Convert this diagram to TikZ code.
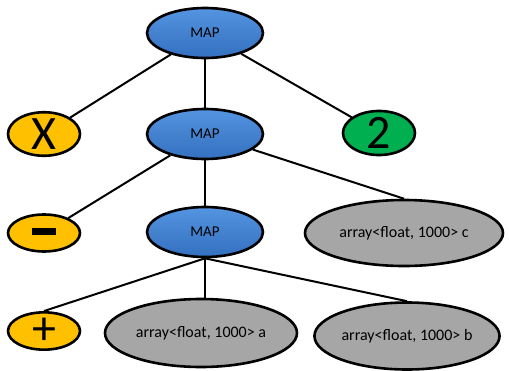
\documentclass[tikz,border=0pt]{standalone}
\usepackage{fontspec}
\setmainfont{Carlito}
\usetikzlibrary{shapes.geometric}
\definecolor{maptop}{RGB}{84,148,224}
\definecolor{mapbottom}{RGB}{52,112,192}
\definecolor{opyellow}{RGB}{255,192,0}
\definecolor{numgreen}{RGB}{0,176,80}
\definecolor{arrgray}{RGB}{166,166,166}
\tikzset{
  base/.style={ellipse, draw=black, line width=2.6pt, inner sep=0pt},
  mapnode/.style={base, top color=maptop, bottom color=mapbottom, minimum width=116pt, minimum height=50pt, font=\fontsize{15}{17}\selectfont},
  opnode/.style={base, fill=opyellow, minimum width=72pt, minimum height=37pt},
  numnode/.style={base, fill=numgreen, minimum width=72pt, minimum height=37pt},
  arrnode/.style={base, fill=arrgray, font=\fontsize{16}{18}\selectfont},
  bigsym/.style={font=\fontsize{48}{48}\selectfont},
  edge/.style={draw=black, line width=2pt}
}
\begin{document}
\begin{tikzpicture}[x=1pt, y=-1pt]
\useasboundingbox (0,0) rectangle (509,370);
\node[mapnode] (m1) at (205,33) {MAP};
\node[opnode, bigsym] (x) at (44,134) {X};
\node[mapnode] (m2) at (205,134) {MAP};
\node[numnode, bigsym] (two) at (379,133) {2};
\node[opnode] (minus) at (44,233) {\rule[3pt]{24pt}{7pt}};
\node[mapnode] (m3) at (205,232) {MAP};
\node[arrnode, minimum width=198pt, minimum height=66pt] (c) at (404,233) {array<float, 1000> c};
\node[opnode, bigsym] (plus) at (44,331) {+};
\node[arrnode, minimum width=192pt, minimum height=68pt] (a) at (201,333) {array<float, 1000> a};
\node[arrnode, minimum width=184pt, minimum height=67pt] (b) at (407,336) {array<float, 1000> b};
% connectors from each MAP to its children
\path[edge] (m1) -- (x);
\path[edge] (m1) -- (m2);
\path[edge] (m1) -- (two);
\path[edge] (m2) -- (minus);
\path[edge] (m2) -- (m3);
\path[edge] (m2) -- (c.north);
\path[edge] (m3.south) -- (plus.north);
\path[edge] (m3.south) -- (a.north -| m3.south);
\path[edge] (m3.south) -- (b.north);
\end{tikzpicture}
\end{document}
